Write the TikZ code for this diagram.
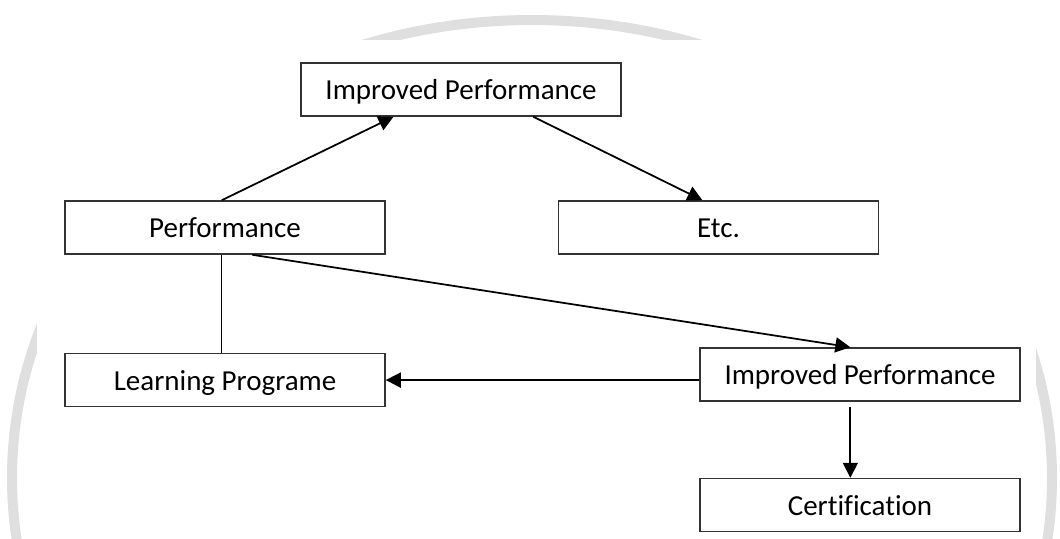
\documentclass[tikz,border=0pt]{standalone}
\usepackage{fontspec}
\setmainfont[Ligatures=NoCommon]{Carlito}
\usetikzlibrary{arrows.meta,positioning,calc}

\begin{document}
\begin{tikzpicture}[
  x=0.02cm, y=-0.02cm,
  node distance=1.96cm and 3.44cm,
  font=\fontsize{16.5}{20}\selectfont,
  box/.style={rectangle, draw=black!80, line width=0.9pt, minimum width=6.4cm, minimum height=1.06cm, inner sep=0pt, text height=11.7pt, text depth=0pt},
  arrow/.style={-{Triangle[length=0.3cm,width=0.3cm]}, line width=1pt},
  link/.style={line width=0.8pt}
]
  % page frame and faint watermark behind the white panel
  \useasboundingbox (0,0) rectangle (1060,538);
  \begin{scope}
    \clip (0,0) rectangle (1060,538);
    \draw[gray!25, line width=0.2cm] (532,478) ellipse[x radius=520, y radius=458];
    \fill[white] (37,40) rectangle (1036,538);
  \end{scope}

  % Row 1: top result
  \node[box] (impA) at (461,89.5) {Improved Performance};

  % Row 2: performance and etc.
  \node[box] (perf) at (225,227.5) {Performance};
  \node[box, right=of perf] (etc) {Etc.};

  % Row 3: learning programme and second result
  \node[box, below=of perf] (learn) {Learning Programe};
  \node[box] (impB) at (860,374.5) {Improved Performance};

  % Row 4: certification
  \node[box, below=1.52cm of impB] (cert) {Certification};

  % connectors
  \draw[arrow] ($(perf.north west)!0.49!(perf.north east)$) -- ($(impA.south west)!0.29!(impA.south east)$);
  \draw[arrow] ($(impA.south west)!0.725!(impA.south east)$) -- ($(etc.north west)!0.45!(etc.north east)$);
  \draw[arrow] ($(perf.south west)!0.585!(perf.south east)$) -- ($(impB.north west)!0.47!(impB.north east)$);
  \draw[link] ($(perf.south west)!0.49!(perf.south east)$) -- ($(learn.north west)!0.49!(learn.north east)$);
  \draw[arrow] (impB.west |- learn.east) -- (learn.east);
  \draw[arrow, shorten <=3pt] ($(impB.south west)!0.47!(impB.south east)$) -- ($(cert.north west)!0.47!(cert.north east)$);
\end{tikzpicture}
\end{document}
